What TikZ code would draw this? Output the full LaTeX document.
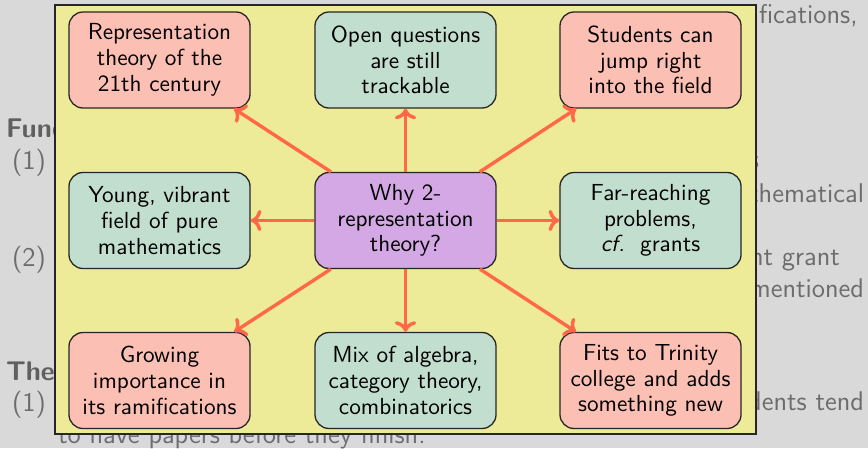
\documentclass[tikz,border=0pt]{standalone}
\usetikzlibrary{arrows.meta}
\definecolor{slidebg}{RGB}{217,217,217}
\definecolor{panelfill}{RGB}{237,234,152}
\definecolor{pinkbox}{RGB}{252,191,179}
\definecolor{greenbox}{RGB}{194,222,207}
\definecolor{purplebox}{RGB}{211,168,228}
\definecolor{arrowcol}{RGB}{255,104,72}
\definecolor{bgtxt}{RGB}{108,108,108}
\definecolor{bgbold}{RGB}{96,96,96}
\begin{document}
\begin{tikzpicture}[x=0.422pt,y=-0.422pt,
  bgt/.style={font=\sffamily\fontsize{11.4}{13.5}\selectfont, text=bgtxt, inner sep=0pt, outer sep=0pt},
  bgh/.style={font=\sffamily\bfseries\fontsize{11.4}{13.5}\selectfont, text=bgbold, inner sep=0pt, outer sep=0pt},
  card/.style={draw=black!85, line width=0.55pt, rounded corners=5.9pt,
    minimum width=76.4pt, minimum height=40.5pt, inner sep=0pt, align=center,
    font=\sffamily\fontsize{9.8}{10.85}\selectfont},
  pinkcard/.style={card, fill=pinkbox},
  greencard/.style={card, fill=greenbox},
  centercard/.style={card, fill=purplebox},
  spoke/.style={draw=arrowcol, line width=1.45pt, -{Computer Modern Rightarrow[length=4.5pt,width=9pt]}}]
\fill[slidebg] (0,0) rectangle (868,448);
\useasboundingbox (0,0) rectangle (868,448);
% background slide text
\node[bgt, anchor=base west] (t1) at (759,23) {fications,};
\node[bgh, anchor=base west] (h1) at (6,137) {Funding};
\node[bgt, anchor=base west] (n1) at (12,169) {(1)};
\node[bgt, anchor=base east] (t2) at (759,168) {s};
\node[bgt, anchor=base east] (t3) at (864,202) {mathematical};
\node[bgt, anchor=base west] (n2) at (12,266) {(2)};
\node[bgt, anchor=base east] (t4) at (840,265) {ent grant};
\node[bgt, anchor=base east] (t5) at (864,297) {mentioned};
\node[bgh, anchor=base west] (h2) at (6,380) {The};
\node[bgt, anchor=base west] (n3) at (12,411) {(1)};
\node[bgt, anchor=base east] (t6) at (864,410) {dents tend};
\node[bgt, anchor=base west] (t7) at (58,443) {to have papers before they finish.};
% panel
\draw[draw=black!85, line width=0.8pt, fill=panelfill] (55,5) rectangle (756,434);
% cards
\node[centercard] (c) at (405.5,220.5) {Why 2-\\representation\\theory?};
\node[pinkcard] (tl) at (159.5,60) {Representation\\theory of the\\21th century};
\node[greencard] (tm) at (405.5,60) {Open questions\\are still\\trackable};
\node[pinkcard] (tr) at (650.5,60) {Students can\\jump right\\into the field};
\node[greencard] (ml) at (159.5,220.5) {Young, vibrant\\field of pure\\mathematics};
\node[greencard] (mr) at (650.5,220.5) {Far-reaching\\problems,\\\emph{cf.}\ \ grants};
\node[pinkcard] (bl) at (159.5,380.5) {Growing\\importance in\\its ramifications};
\node[greencard] (bm) at (405.5,380.5) {Mix of algebra,\\category theory,\\combinatorics};
\node[pinkcard] (br) at (650.5,380.5) {Fits to Trinity\\college and adds\\something new};
% spokes
\foreach \n in {tl,tm,tr,ml,mr,bl,bm,br}
  \draw[spoke] (c) -- (\n);
\end{tikzpicture}
\end{document}
